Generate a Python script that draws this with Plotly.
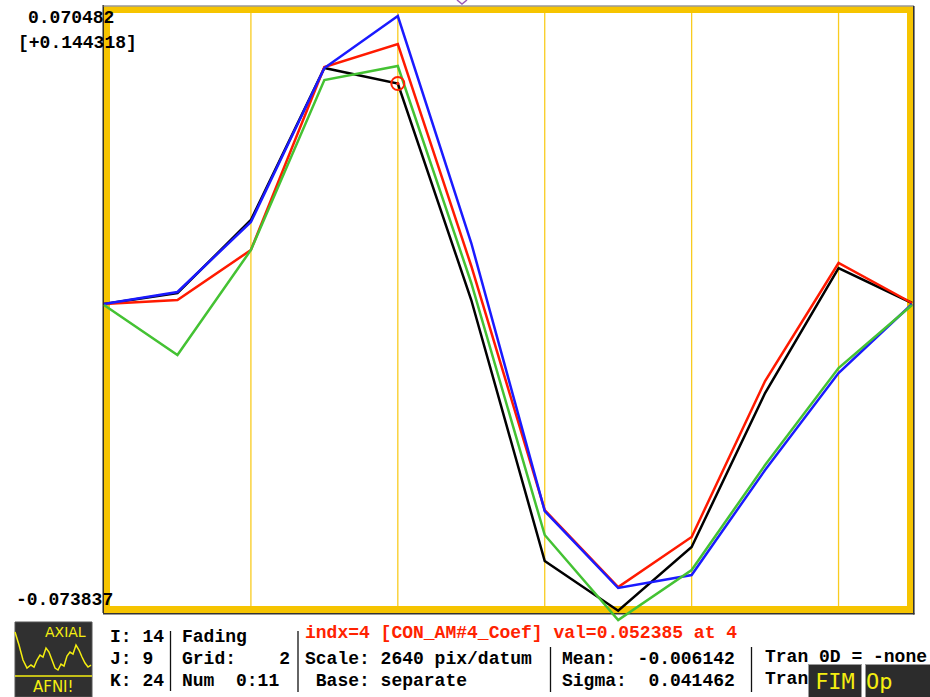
import plotly.graph_objects as go

# ---------------- data ----------------
idx = list(range(12))
black = [-0.000480, 0.002158, 0.019658, 0.056098, 0.052385, 0.000480,
         -0.062090, -0.074000, -0.058735, -0.021816, 0.008151, -0.000240]
red = [-0.000480, 0.000480, 0.012467, 0.056338, 0.061852, 0.008631,
       -0.049864, -0.068324, -0.056337, -0.018939, 0.009350, -0.000240]
blue = [-0.000480, 0.002398, 0.019179, 0.056098, 0.068564, 0.014145,
        -0.050104, -0.068564, -0.065447, -0.040275, -0.017021, -0.000480]
green = [-0.000719, -0.012705, 0.012467, 0.053221, 0.056577, 0.004555,
         -0.055857, -0.076235, -0.064248, -0.039076, -0.015822, -0.000719]
grid_idx = [2, 4, 6, 8, 10]
top_val = 0.070482
bot_val = -0.073837
sel_index = 4
sel_value = 0.052385

top_label = "0.070482"
range_label = "[+0.144318]"
bot_label = "-0.073837"
info_col1 = ["I: 14", "J: 9", "K: 24"]
info_col2 = ["Fading", "Grid:    2", "Num  0:11"]
red_line = "indx=4 [CON_AM#4_Coef] val=0.052385 at 4"
info_col3 = ["Scale: 2640 pix/datum", " Base: separate"]
info_col4 = ["Mean:  -0.006142", "Sigma:  0.041462"]
info_col5 = ["Tran 0D = -none", "Tran"]

# ---------------- layout geometry ----------------
W_FIG, H_FIG = 930, 697
ML, MR, MT, MB = 94, 8, 0, 60
PW = W_FIG - ML - MR
PH = H_FIG - MT - MB
X0PX, X1PX = 104, 912
YTOPPX, YBOTPX = 8, 610
xppu = (X1PX - X0PX) / (idx[-1] - idx[0])
xr = [idx[0] - (X0PX - ML) / xppu, idx[-1] + (W_FIG - MR - X1PX) / xppu]
yppu = (YBOTPX - YTOPPX) / (top_val - bot_val)
yr = [top_val - (MT + PH - YTOPPX) / yppu, top_val + (YTOPPX - MT) / yppu]


def fx(px):
    return (px - ML) / PW


def fy(py):
    return 1 - (py - MT) / PH


YEL = "#f6c400"
GRIDC = "#f9cc20"
MONO = "Liberation Mono"

shapes = []
# yellow frame
shapes.append(dict(type="rect", xref="paper", yref="paper", layer="below",
                   x0=fx(103.5), x1=fx(913.5), y0=fy(613), y1=fy(6.5),
                   fillcolor=YEL, line=dict(width=0)))
shapes.append(dict(type="rect", xref="paper", yref="paper", layer="below",
                   x0=fx(110), x1=fx(907), y0=fy(606), y1=fy(13),
                   fillcolor="white", line=dict(width=0)))
# dark edges of the frame
shapes.append(dict(type="line", xref="paper", yref="paper", layer="below",
                   x0=fx(103.2), x1=fx(103.2), y0=fy(5), y1=fy(613),
                   line=dict(color="#111111", width=1.3)))
shapes.append(dict(type="line", xref="paper", yref="paper", layer="below",
                   x0=fx(103), x1=fx(914), y0=fy(6), y1=fy(6),
                   line=dict(color="#666666", width=1.2)))
shapes.append(dict(type="line", xref="paper", yref="paper", layer="below",
                   x0=fx(913.8), x1=fx(913.8), y0=fy(6), y1=fy(614.5),
                   line=dict(color="#333333", width=1.6)))
shapes.append(dict(type="line", xref="paper", yref="paper", layer="below",
                   x0=fx(103), x1=fx(914.5), y0=fy(613.8), y1=fy(613.8),
                   line=dict(color="#333333", width=1.6)))
# vertical grid lines
for g in grid_idx:
    shapes.append(dict(type="line", xref="x", yref="paper", layer="below",
                       x0=g, x1=g, y0=fy(606), y1=fy(13),
                       line=dict(color=GRIDC, width=1.3)))

# bottom-panel separators
for sx, sy0, sy1 in [(170.5, 631, 691), (298, 631, 692), (550.5, 647, 692), (751.5, 647, 692)]:
    shapes.append(dict(type="line", xref="paper", yref="paper", layer="above",
                       x0=fx(sx), x1=fx(sx), y0=fy(sy0), y1=fy(sy1),
                       line=dict(color="#111111", width=1.3)))

# AFNI logo box
shapes.append(dict(type="rect", xref="paper", yref="paper", layer="above",
                   x0=fx(15), x1=fx(92), y0=fy(697), y1=fy(622),
                   fillcolor="#303030", line=dict(color="#555555", width=1)))
wave_px = [(15, 632), (19, 645), (23, 660), (27, 668), (31, 665), (34, 667), (37, 660),
           (40, 655), (43, 657), (46, 648), (49, 652), (52, 660), (55, 668), (58, 670),
           (61, 664), (64, 666), (67, 656), (70, 652), (73, 654), (76, 645), (79, 650),
           (82, 657), (85, 663), (88, 667), (91, 665)]
wpath = "M " + " L ".join(f"{fx(a):.5f},{fy(b):.5f}" for a, b in wave_px)
shapes.append(dict(type="path", xref="paper", yref="paper", layer="above", path=wpath,
                   line=dict(color="#f4ee10", width=1.5)))
shapes.append(dict(type="line", xref="paper", yref="paper", layer="above",
                   x0=fx(15), x1=fx(92), y0=fy(676), y1=fy(676),
                   line=dict(color="#f4ee10", width=1.5)))

fig = go.Figure()
for vals, col in [(black, "#000000"), (red, "#ff1a00"), (blue, "#1a1aff"), (green, "#44c233")]:
    fig.add_trace(go.Scatter(x=idx, y=vals, mode="lines",
                             line=dict(color=col, width=2.5), hoverinfo="skip",
                             showlegend=False))
fig.add_trace(go.Scatter(x=[sel_index], y=[sel_value], mode="markers",
                         marker=dict(symbol="circle-open-dot", size=13,
                                     color="#ff2200", line=dict(color="#ff2200", width=2)),
                         showlegend=False, hoverinfo="skip", cliponaxis=False))

ann = []


def txt(s, x, y, color="black", size=18, bold=True, family=MONO, xanchor="left", **kw):
    s = s.replace(" ", "\u00a0")
    if bold:
        s = "<b>" + s + "</b>"
    d = dict(text=s, xref="paper", yref="paper", x=fx(x), y=fy(y), xanchor=xanchor,
             yanchor="middle", showarrow=False, font=dict(family=family, size=size, color=color))
    d.update(kw)
    ann.append(d)


txt(top_label, 26, 18)
txt(range_label, 16, 43)
txt(bot_label, 14, 600)
for i, s in enumerate(info_col1):
    txt(s, 108, 637 + i * 22)
for i, s in enumerate(info_col2):
    txt(s, 180, 637 + i * 22)
txt(red_line, 303, 633, color="#ff2200")
for i, s in enumerate(info_col3):
    txt(s, 303, 659 + i * 22)
for i, s in enumerate(info_col4):
    txt(s, 560, 659 + i * 22)
for i, s in enumerate(info_col5):
    txt(s, 763, 657 + i * 22)

# logo texts
txt("AXIAL", 88, 632, color="#f4ee10", size=14, bold=False, family="DejaVu Sans", xanchor="right")
txt("AFNI!", 53, 687, color="#f4ee10", size=15, bold=False, family="DejaVu Sans", xanchor="center")

# buttons drawn over the text
ann.append(dict(text="FIM", xref="paper", yref="paper", x=fx(808), y=fy(664), xanchor="left",
                yanchor="top", showarrow=False, width=52, height=33, align="center",
                bgcolor="#2c2c2c", bordercolor="#9a9a9a", borderwidth=1, borderpad=0,
                font=dict(family="DejaVu Sans Mono", size=22, color="#f4ee10")))
ann.append(dict(text="Op", xref="paper", yref="paper", x=fx(865), y=fy(664), xanchor="left",
                yanchor="top", showarrow=False, width=70, height=33, align="left",
                bgcolor="#2c2c2c", bordercolor="#9a9a9a", borderwidth=1, borderpad=0,
                font=dict(family="DejaVu Sans Mono", size=22, color="#f4ee10")))
fig.update_layout(annotations=ann)

# resize grip
shapes.append(dict(type="path", xref="paper", yref="paper", layer="above",
                   path="M {0:.5f},{1:.5f} L {2:.5f},{3:.5f} L {0:.5f},{3:.5f} Z".format(
                       fx(930), fy(668), fx(898), fy(697)),
                   fillcolor="#e6e6e6", line=dict(width=0)))
for k in range(3):
    shapes.append(dict(type="line", xref="paper", yref="paper", layer="above",
                       x0=fx(905 + k * 7), y0=fy(697), x1=fx(930), y1=fy(672 + k * 7),
                       line=dict(color="#9a9a9a", width=1)))

# small purple mark at the top edge
shapes.append(dict(type="path", xref="paper", yref="paper", layer="above",
                   path="M {0:.5f},{1:.5f} L {2:.5f},{3:.5f} L {4:.5f},{1:.5f}".format(
                       fx(457), fy(0), fx(462), fy(4), fx(467)),
                   line=dict(color="#9b59b6", width=1.5)))

fig.update_layout(
    width=W_FIG, height=H_FIG, autosize=False,
    margin=dict(l=ML, r=MR, t=MT, b=MB, pad=0),
    paper_bgcolor="white", plot_bgcolor="white",
    xaxis=dict(range=xr, visible=False, fixedrange=True),
    yaxis=dict(range=yr, visible=False, fixedrange=True),
    shapes=shapes,
    showlegend=False,
)

fig.write_html("out.html")
